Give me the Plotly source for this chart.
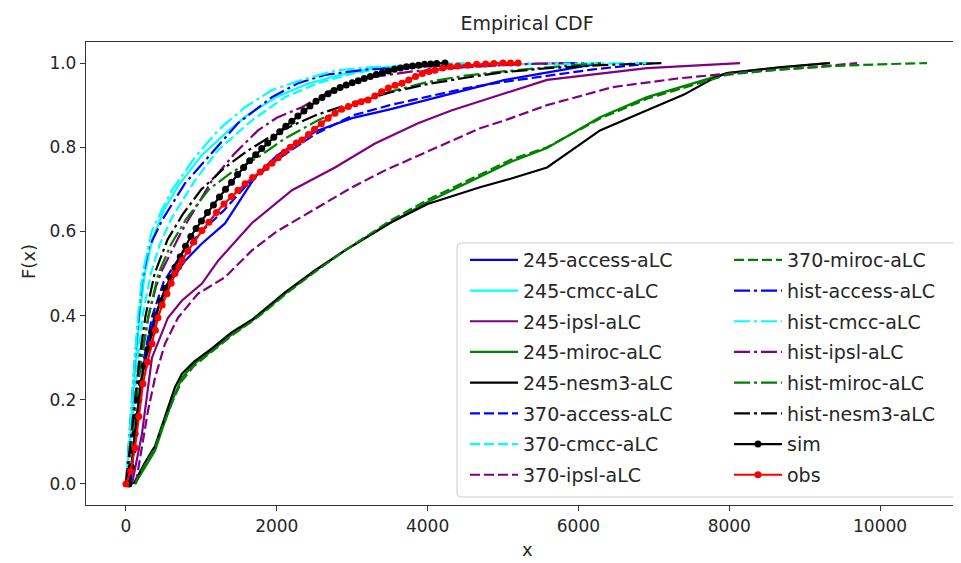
import plotly.graph_objects as go

# ---------------- data ----------------
acc245_x = [60, 110, 170, 250, 380, 550, 782, 1000, 1313, 1500, 1711, 2000, 2300, 2546, 2997, 3500, 3873, 4500, 5027, 5500, 6000, 6300]
acc245_y = [0.0, 0.10, 0.20, 0.30, 0.40, 0.47, 0.53, 0.57, 0.619, 0.67, 0.729, 0.78, 0.815, 0.84, 0.869, 0.89, 0.907, 0.935, 0.96, 0.975, 0.99, 1.0]

cmcc245_x = [0, 50, 90, 130, 180, 250, 350, 500, 700, 1000, 1300, 1600, 2000, 2400, 2800, 3200, 3600, 4200]
cmcc245_y = [0.0, 0.10, 0.20, 0.30, 0.40, 0.50, 0.58, 0.65, 0.71, 0.78, 0.83, 0.875, 0.92, 0.95, 0.97, 0.985, 0.993, 1.0]

ipsl245_x = [80, 212, 345, 557, 743, 1008, 1220, 1671, 2202, 2772, 3302, 3873, 4324, 5027, 5584, 6910, 8143]
ipsl245_y = [0.0, 0.119, 0.30, 0.395, 0.436, 0.476, 0.53, 0.62, 0.698, 0.752, 0.809, 0.857, 0.888, 0.929, 0.96, 0.988, 1.0]

miroc245_x = [119, 250, 385, 500, 650, 743, 900, 1141, 1400, 1671, 1900, 2109, 2500, 2905, 3500, 4000, 4695, 5100, 5584, 6286, 6910, 7400, 7971, 8674, 9300]
miroc245_y = [0.0, 0.04, 0.079, 0.14, 0.214, 0.252, 0.285, 0.317, 0.355, 0.388, 0.42, 0.452, 0.505, 0.555, 0.62, 0.67, 0.729, 0.765, 0.798, 0.871, 0.919, 0.945, 0.976, 0.99, 1.0]

nesm245_x = [100, 250, 385, 500, 650, 743, 900, 1141, 1400, 1671, 2109, 2500, 2905, 3500, 4000, 4695, 5100, 5584, 6286, 6910, 7400, 7790, 7971, 8674, 9337]
nesm245_y = [0.0, 0.05, 0.09, 0.15, 0.23, 0.262, 0.29, 0.322, 0.36, 0.39, 0.455, 0.507, 0.555, 0.62, 0.665, 0.705, 0.725, 0.752, 0.84, 0.888, 0.925, 0.964, 0.976, 0.99, 1.0]

acc370_x = [60, 110, 170, 240, 350, 500, 750, 1000, 1300, 1600, 2000, 2500, 2997, 3500, 3873, 4500, 5000, 5600, 6200, 7000]
acc370_y = [0.0, 0.10, 0.20, 0.30, 0.40, 0.48, 0.55, 0.60, 0.65, 0.71, 0.77, 0.83, 0.875, 0.90, 0.915, 0.94, 0.955, 0.97, 0.985, 1.0]

cmcc370_x = [0, 60, 110, 160, 220, 330, 450, 610, 915, 1220, 1671, 2109, 2546, 3000, 3500, 4000, 4500]
cmcc370_y = [0.0, 0.10, 0.20, 0.30, 0.40, 0.50, 0.57, 0.633, 0.721, 0.793, 0.864, 0.919, 0.952, 0.975, 0.99, 0.997, 1.0]

ipsl370_x = [130, 292, 385, 517, 690, 955, 1313, 1671, 2000, 2546, 3000, 3435, 4000, 4324, 4695, 5027, 5584, 6459, 7347, 8236, 9111, 9695]
ipsl370_y = [0.0, 0.174, 0.252, 0.333, 0.395, 0.452, 0.491, 0.555, 0.60, 0.657, 0.705, 0.745, 0.79, 0.817, 0.845, 0.864, 0.90, 0.943, 0.964, 0.979, 0.99, 1.0]

miroc370_x = [119, 250, 385, 500, 650, 743, 900, 1141, 1400, 1671, 1900, 2109, 2500, 2905, 3500, 4000, 4695, 5100, 5584, 6286, 6910, 7400, 7971, 8674, 9400, 10000, 10623]
miroc370_y = [0.0, 0.045, 0.085, 0.145, 0.21, 0.245, 0.28, 0.315, 0.352, 0.386, 0.418, 0.45, 0.503, 0.555, 0.625, 0.675, 0.735, 0.77, 0.80, 0.868, 0.915, 0.942, 0.972, 0.985, 0.993, 0.997, 1.0]

acchist_x = [0, 40, 80, 120, 170, 212, 300, 477, 782, 1141, 1485, 1936, 2281, 2640, 3200, 4000, 5000, 6100]
acchist_y = [0.0, 0.10, 0.20, 0.30, 0.40, 0.48, 0.56, 0.626, 0.714, 0.786, 0.857, 0.919, 0.952, 0.972, 0.985, 0.992, 0.997, 1.0]

cmcchist_x = [0, 40, 80, 120, 160, 220, 345, 500, 610, 915, 1220, 1578, 1936, 2334, 2772, 3210, 4000, 5500, 7000]
cmcchist_y = [0.0, 0.10, 0.20, 0.30, 0.40, 0.50, 0.602, 0.66, 0.698, 0.776, 0.84, 0.895, 0.936, 0.96, 0.982, 0.99, 0.995, 0.998, 1.0]

ipslhist_x = [0, 70, 130, 200, 300, 400, 477, 743, 1141, 1446, 1751, 2000, 2334, 2772, 3200, 3800, 4500, 5200, 5800]
ipslhist_y = [0.0, 0.10, 0.20, 0.30, 0.40, 0.47, 0.507, 0.602, 0.721, 0.786, 0.84, 0.87, 0.895, 0.94, 0.965, 0.98, 0.99, 0.997, 1.0]

mirochist_x = [0, 80, 140, 210, 300, 430, 600, 800, 1100, 1400, 1751, 2100, 2546, 3000, 3435, 4000, 4500, 5000, 5600, 6300]
mirochist_y = [0.0, 0.10, 0.20, 0.30, 0.40, 0.50, 0.57, 0.63, 0.70, 0.74, 0.776, 0.82, 0.864, 0.90, 0.929, 0.955, 0.97, 0.98, 0.99, 1.0]

nesmhist_x = [0, 60, 120, 180, 260, 380, 550, 750, 1000, 1300, 1600, 2000, 2500, 3000, 3500, 4000, 4500, 5000, 5600, 6300, 7100]
nesmhist_y = [0.0, 0.10, 0.20, 0.30, 0.40, 0.50, 0.58, 0.64, 0.70, 0.75, 0.79, 0.835, 0.875, 0.905, 0.93, 0.95, 0.965, 0.978, 0.988, 0.995, 1.0]

sim_x = [40, 70, 95, 120, 145, 170, 200, 240, 290, 340, 400, 460, 520, 590, 650, 720, 790, 860, 930, 1000,
         1080, 1160, 1240, 1320, 1400, 1480, 1560, 1640, 1720, 1800, 1880, 1960, 2040, 2120, 2200, 2280, 2360, 2440, 2520, 2600,
         2680, 2760, 2840, 2920, 3000, 3080, 3160, 3240, 3320, 3400, 3480, 3560, 3640, 3720, 3800, 3880, 3960, 4040, 4120, 4231]
sim_y = [0.0, 0.04, 0.08, 0.12, 0.16, 0.20, 0.24, 0.28, 0.32, 0.36, 0.40, 0.435, 0.465, 0.49, 0.514, 0.54, 0.565, 0.588, 0.607, 0.625,
         0.645, 0.663, 0.682, 0.70, 0.717, 0.735, 0.752, 0.768, 0.782, 0.797, 0.81, 0.824, 0.837, 0.85, 0.862, 0.874, 0.886, 0.898, 0.909, 0.918,
         0.927, 0.935, 0.942, 0.948, 0.953, 0.958, 0.963, 0.968, 0.973, 0.977, 0.981, 0.985, 0.988, 0.991, 0.993, 0.995, 0.997, 0.998, 0.999, 1.0]

obs_x = [0, 60, 119, 170, 225, 285, 345, 390, 424, 480, 544, 600, 650, 700, 743, 820, 900, 1008, 1100, 1200,
         1300, 1400, 1485, 1580, 1680, 1780, 1860, 1936, 2020, 2100, 2180, 2260, 2334, 2420, 2500, 2590, 2680, 2772, 2860, 2950,
         3040, 3120, 3210, 3300, 3390, 3480, 3570, 3660, 3750, 3840, 3930, 4020, 4098, 4200, 4300, 4400, 4536, 4650, 4770, 4880,
         5000, 5100, 5200]
obs_y = [0.0, 0.03, 0.086, 0.16, 0.238, 0.29, 0.333, 0.365, 0.395, 0.425, 0.452, 0.477, 0.50, 0.516, 0.531, 0.553, 0.575, 0.602, 0.622, 0.645,
         0.665, 0.683, 0.698, 0.713, 0.728, 0.741, 0.752, 0.762, 0.775, 0.788, 0.80, 0.81, 0.817, 0.83, 0.843, 0.856, 0.869, 0.881, 0.89, 0.897,
         0.903, 0.908, 0.912, 0.922, 0.932, 0.941, 0.947, 0.952, 0.96, 0.968, 0.975, 0.98, 0.983, 0.988, 0.991, 0.993, 0.995, 0.997, 0.998, 0.999,
         1.0, 1.0, 1.0]

x_ticks = [0, 2000, 4000, 6000, 8000, 10000]
y_ticks = [0.0, 0.2, 0.4, 0.6, 0.8, 1.0]

# ---------------- styles ----------------
DASH = "10px,4px"
DASHDOT = "16px,4px,3px,4px"
series = [
    ("245-access-aLC", acc245_x, acc245_y, "#0000ff", "solid", "legend"),
    ("245-cmcc-aLC", cmcc245_x, cmcc245_y, "#00ffff", "solid", "legend"),
    ("245-ipsl-aLC", ipsl245_x, ipsl245_y, "#800080", "solid", "legend"),
    ("245-miroc-aLC", miroc245_x, miroc245_y, "#008000", "solid", "legend"),
    ("245-nesm3-aLC", nesm245_x, nesm245_y, "#000000", "solid", "legend"),
    ("370-access-aLC", acc370_x, acc370_y, "#0000ff", DASH, "legend"),
    ("370-cmcc-aLC", cmcc370_x, cmcc370_y, "#00ffff", DASH, "legend"),
    ("370-ipsl-aLC", ipsl370_x, ipsl370_y, "#800080", DASH, "legend"),
    ("370-miroc-aLC", miroc370_x, miroc370_y, "#008000", DASH, "legend2"),
    ("hist-access-aLC", acchist_x, acchist_y, "#0000ff", DASHDOT, "legend2"),
    ("hist-cmcc-aLC", cmcchist_x, cmcchist_y, "#00ffff", DASHDOT, "legend2"),
    ("hist-ipsl-aLC", ipslhist_x, ipslhist_y, "#800080", DASHDOT, "legend2"),
    ("hist-miroc-aLC", mirochist_x, mirochist_y, "#008000", DASHDOT, "legend2"),
    ("hist-nesm3-aLC", nesmhist_x, nesmhist_y, "#000000", DASHDOT, "legend2"),
]

fig = go.Figure()
for name, xs, ys, col, dash, leg in series:
    fig.add_trace(go.Scatter(x=xs, y=ys, mode="lines", name=name, legend=leg,
                             legendgroup=name,
                             line=dict(color=col, width=2.2, dash=dash)))
fig.add_trace(go.Scatter(x=sim_x, y=sim_y, mode="lines+markers", name="sim", legend="legend2",
                         legendgroup="sim",
                         line=dict(color="#000000", width=2.2), marker=dict(size=7, color="#000000")))
fig.add_trace(go.Scatter(x=obs_x, y=obs_y, mode="lines+markers", name="obs", legend="legend2",
                         legendgroup="obs",
                         line=dict(color="#ff0000", width=2.2), marker=dict(size=7, color="#ff0000")))

FONT = "DejaVu Sans"
TXT = "#262626"
OFF = 8                       # the page body adds an 8 px margin around the figure
W, H = 961 - OFF, 563 - OFF
# target plot-area edges in page pixels
PL, PR, PT, PB = 86, 960, 42, 505
L, R, T, B = PL - OFF, W - (PR - OFF), PT - OFF, H - (PB - OFF)
pw, ph = W - L - R, H - T - B

def px_x(p):   # page pixel -> paper fraction
    return (p - OFF - L) / pw

def px_y(p):
    return (H - B - (p - OFF)) / ph

# legend frame (matplotlib-like, rounded corners)
x0, x1 = px_x(457), px_x(958)
y0, y1 = px_y(497), px_y(243)
rx, ry = 4 / pw, 4 / ph
path = (f"M {x0+rx},{y0} L {x1-rx},{y0} Q {x1},{y0} {x1},{y0+ry} L {x1},{y1-ry} Q {x1},{y1} {x1-rx},{y1} "
        f"L {x0+rx},{y1} Q {x0},{y1} {x0},{y1-ry} L {x0},{y0+ry} Q {x0},{y0} {x0+rx},{y0} Z")
fig.add_shape(type="path", path=path, xref="paper", yref="paper", layer="above",
              line=dict(color="#cccccc", width=1), fillcolor="rgba(255,255,255,0.8)")

leg_common = dict(font=dict(family=FONT, size=19, color=TXT), bgcolor="rgba(0,0,0,0)",
                  borderwidth=0, itemwidth=48, tracegroupgap=3, xanchor="left", yanchor="top",
                  itemclick=False, itemdoubleclick=False)

# axis titles as annotations (fixed pixel positions)
fig.add_annotation(text="x", xref="paper", yref="paper", x=px_x(527), y=px_y(549),
                   xanchor="center", yanchor="middle", showarrow=False,
                   font=dict(family=FONT, size=18, color=TXT))
fig.add_annotation(text="F(x)", xref="paper", yref="paper", x=px_x(28), y=px_y(262),
                   xanchor="center", yanchor="middle", showarrow=False, textangle=-90,
                   font=dict(family=FONT, size=18, color=TXT))

fig.update_layout(
    width=W, height=H,
    margin=dict(l=L, r=R, t=T, b=B, autoexpand=False),
    paper_bgcolor="white", plot_bgcolor="white",
    font=dict(family=FONT, size=17, color=TXT),
    title=dict(text="Empirical CDF", x=(527 - OFF) / W, xanchor="center",
               y=1 - (23 - OFF) / H, yanchor="middle", font=dict(family=FONT, size=19, color=TXT)),
    legend=dict(x=px_x(465), y=px_y(241), **leg_common),
    legend2=dict(x=px_x(729), y=px_y(241), **leg_common),
    xaxis=dict(range=[-530, 11060], tickvals=x_ticks, ticktext=[str(v) for v in x_ticks],
               automargin=False,
               showgrid=False, zeroline=False, showline=True, mirror=True, linecolor="#333333", linewidth=1.3,
               ticks="outside", ticklen=5, tickwidth=1.2, tickcolor="#333333",
               tickfont=dict(family=FONT, size=17, color=TXT)),
    yaxis=dict(range=[-0.05, 1.05], tickvals=y_ticks, ticktext=[f"{v:.1f}" for v in y_ticks],
               automargin=False,
               showgrid=False, zeroline=False, showline=True, mirror=True, linecolor="#333333", linewidth=1.3,
               ticks="outside", ticklen=5, tickwidth=1.2, tickcolor="#333333",
               tickfont=dict(family=FONT, size=17, color=TXT)),
)

fig.write_html("out.html")
